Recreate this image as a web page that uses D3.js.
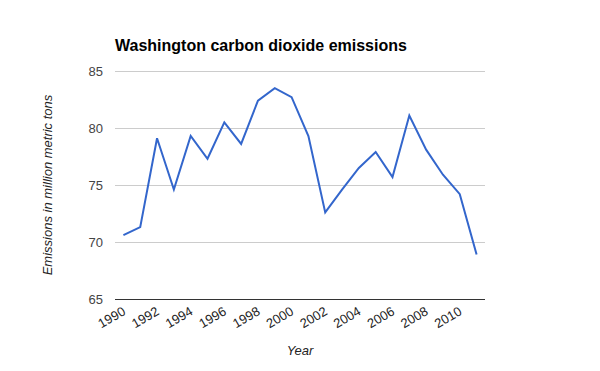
<!DOCTYPE html>
<html>
<head>
<meta charset="utf-8">
<script src="https://cdn.jsdelivr.net/npm/d3@7"></script>
<style>
  body { margin: 0; background: #fff; }
  svg { font-family: "Liberation Sans", Arial, sans-serif; }
</style>
</head>
<body>
<div id="display"></div>
<script>
const years = d3.range(1990, 2012)
const emissions = [70.6, 71.3, 79.1, 74.6, 79.3, 77.3, 80.5, 78.6, 82.4, 83.5, 82.7,
                   79.3, 72.6, 74.6, 76.5, 77.9, 75.7, 81.1, 78.1, 75.9, 74.2, 68.9]
const yTicks = [65, 70, 75, 80, 85]
const xTickYears = years.filter(y => y % 2 === 0)

const width = 600
const height = 371
const margin = { top: 71, right: 115, bottom: 72, left: 115 }

const svg = d3.select("#display")
  .append("svg")
  .attr("width", width)
  .attr("height", height)

const x = d3.scalePoint()
  .domain(years)
  .range([margin.left, width - margin.right])
  .padding(0.5)

const y = d3.scaleLinear()
  .domain([65, 85])
  .range([height - margin.bottom, margin.top])

// gridlines
svg.append("g")
  .selectAll("line")
  .data(yTicks)
  .enter()
  .append("line")
    .attr("x1", margin.left)
    .attr("x2", width - margin.right)
    .attr("y1", d => y(d))
    .attr("y2", d => y(d))
    .attr("stroke", d => d === 65 ? "#333" : "#ccc")
    .attr("stroke-width", 1)
    .attr("shape-rendering", "crispEdges")

// y tick labels
svg.append("g")
  .selectAll("text")
  .data(yTicks)
  .enter()
  .append("text")
    .attr("x", margin.left - 12)
    .attr("y", d => y(d) + 4.5)
    .attr("text-anchor", "end")
    .attr("font-size", 13)
    .attr("fill", "#444")
    .text(d => d)

// x tick labels
svg.append("g")
  .selectAll("text")
  .data(xTickYears)
  .enter()
  .append("text")
    .attr("transform", d => `translate(${x(d) + 3}, ${y(65) + 15}) rotate(-30)`)
    .attr("text-anchor", "end")
    .attr("font-size", 13)
    .attr("fill", "#222")
    .text(d => d)

// line
const line = d3.line()
  .x((d, i) => x(years[i]))
  .y(d => y(d))

svg.append("path")
  .datum(emissions)
  .attr("d", line)
  .attr("fill", "none")
  .attr("stroke", "#3366cc")
  .attr("stroke-width", 2)

// title
svg.append("text")
  .attr("x", margin.left)
  .attr("y", 51)
  .attr("font-size", 16)
  .attr("font-weight", "bold")
  .attr("fill", "#000")
  .text("Washington carbon dioxide emissions")

// axis titles
svg.append("text")
  .attr("x", (margin.left + width - margin.right) / 2)
  .attr("y", 355)
  .attr("text-anchor", "middle")
  .attr("font-size", 13)
  .attr("font-style", "italic")
  .attr("fill", "#222")
  .text("Year")

svg.append("text")
  .attr("transform", `translate(52, ${(y(65) + y(85)) / 2}) rotate(-90)`)
  .attr("text-anchor", "middle")
  .attr("font-size", 13)
  .attr("font-style", "italic")
  .attr("fill", "#222")
  .text("Emissions in million metric tons")
</script>
</body>
</html>
